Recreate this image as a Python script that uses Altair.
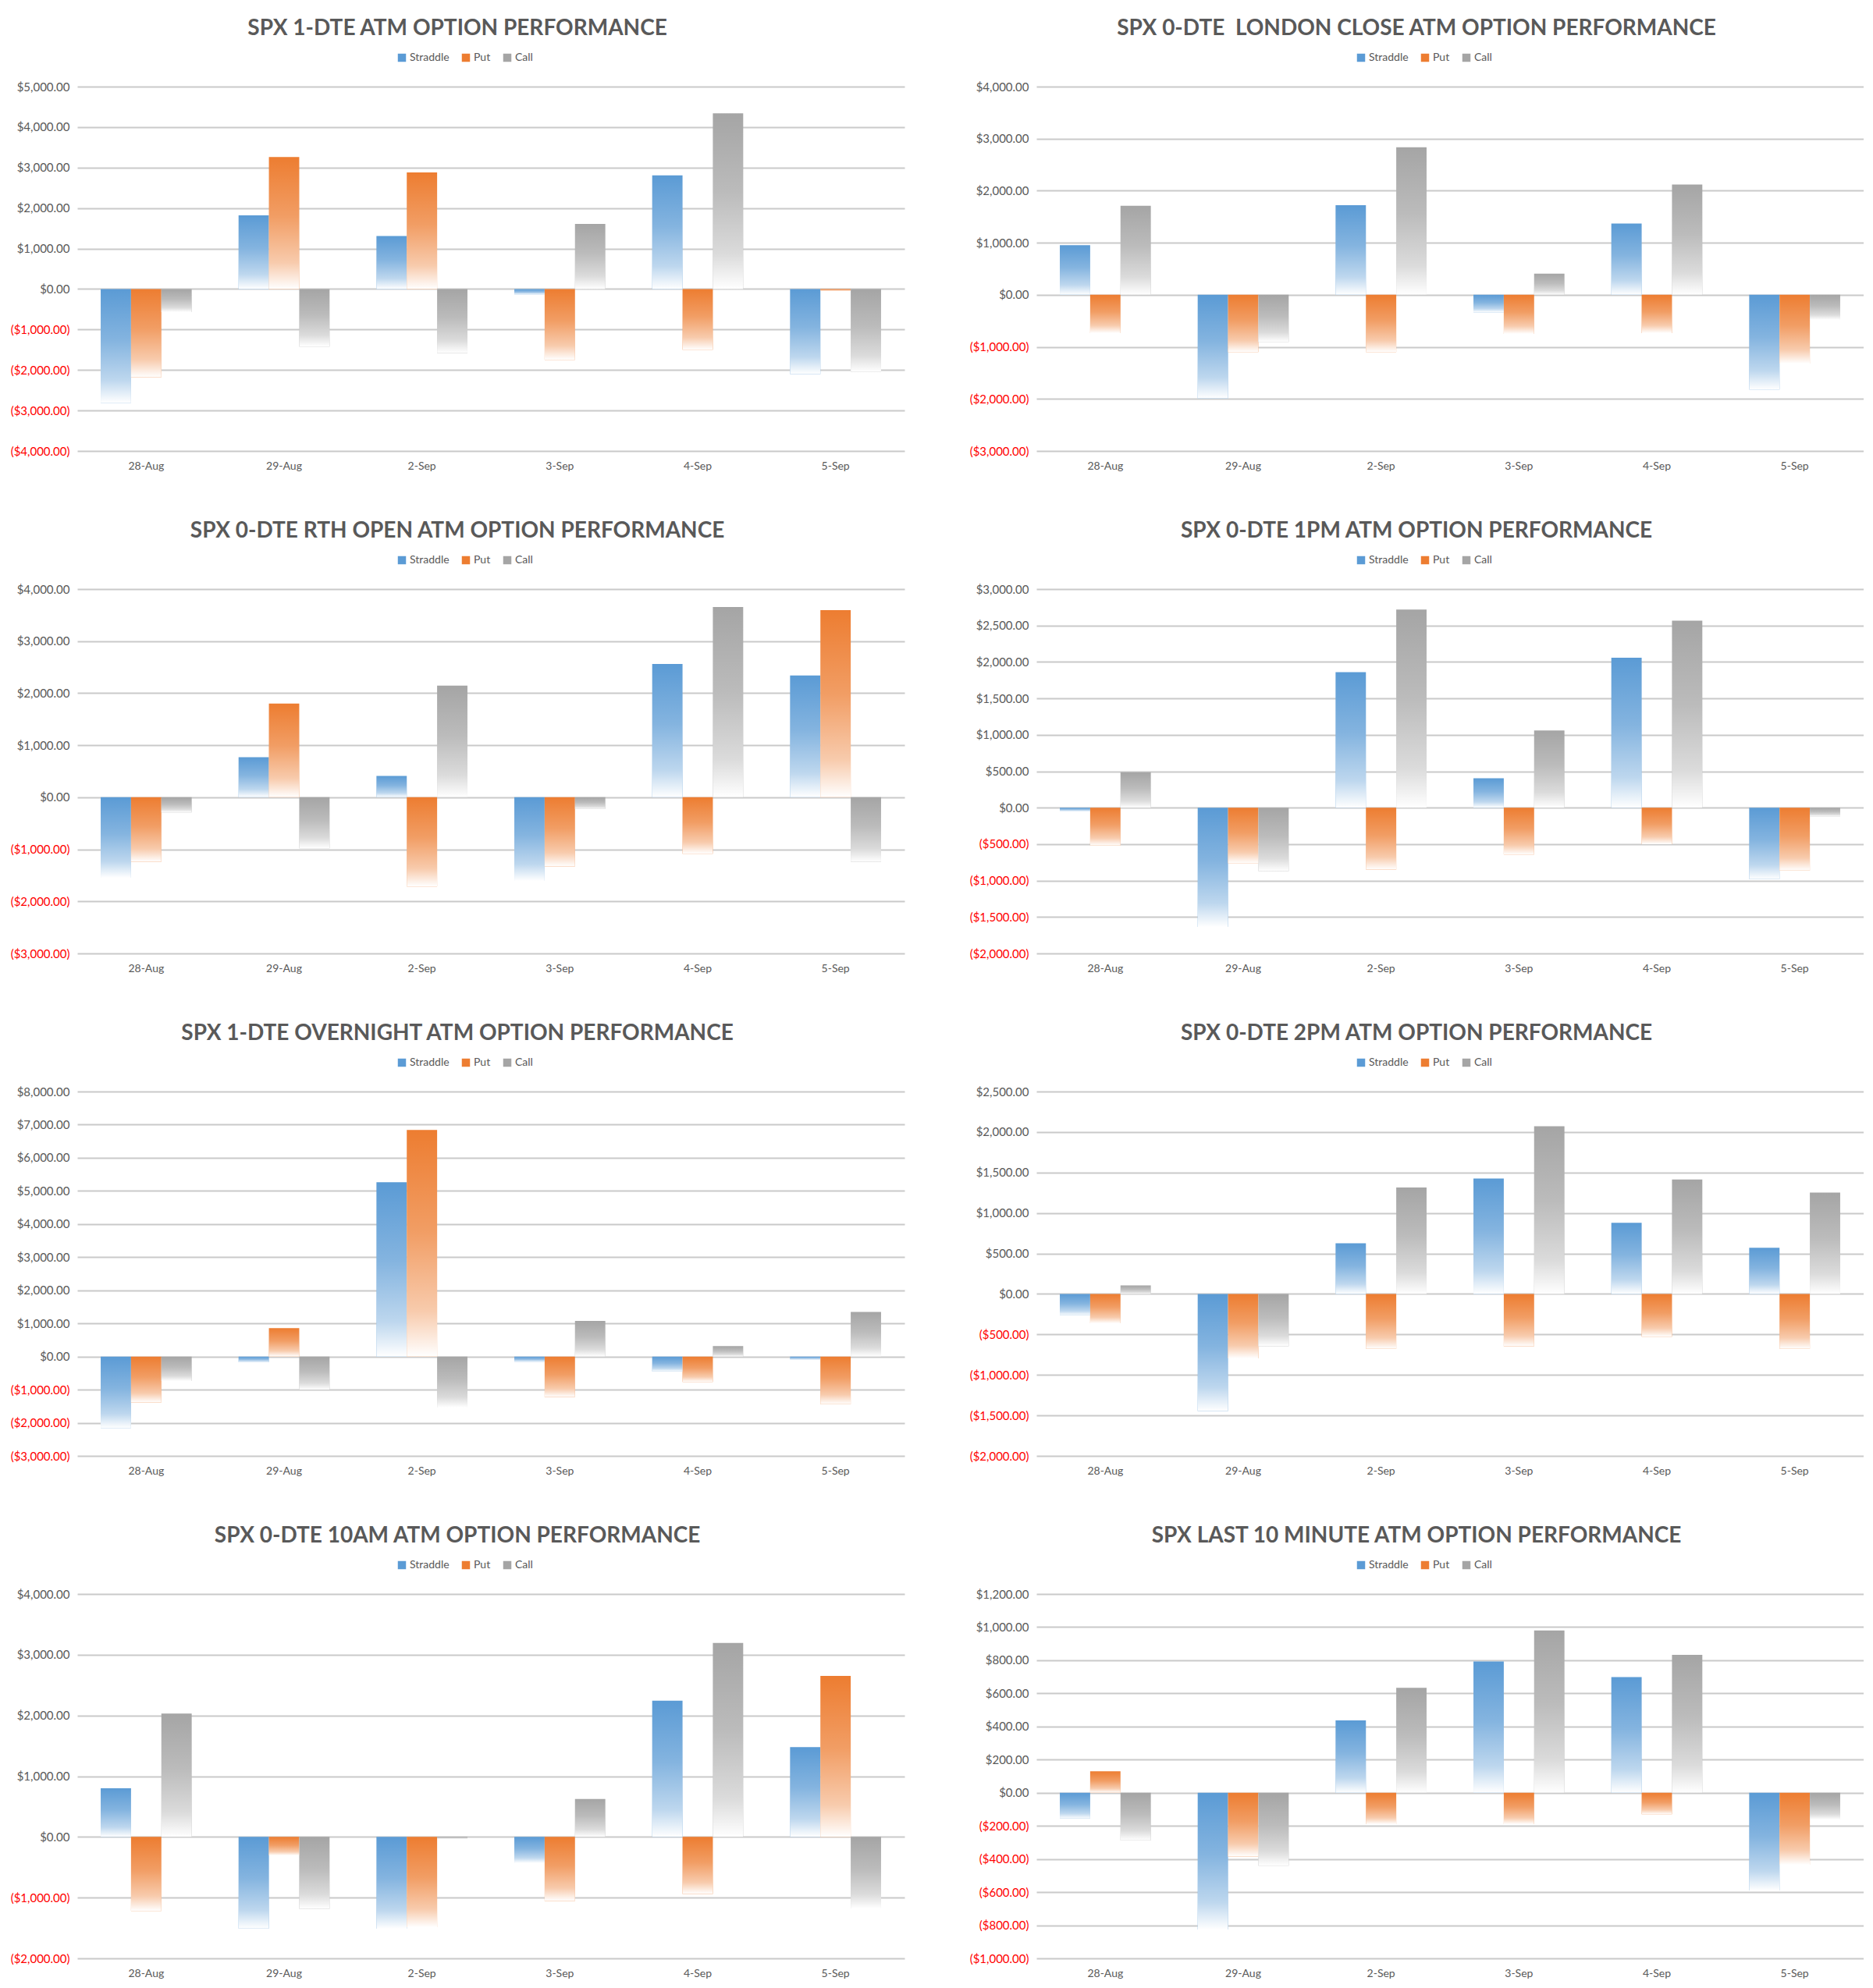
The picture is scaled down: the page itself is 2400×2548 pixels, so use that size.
import altair as alt
import pandas as pd

dates = ["28-Aug", "29-Aug", "2-Sep", "3-Sep", "4-Sep", "5-Sep"]
series = ["Straddle", "Put", "Call"]
colors = ["#5B9BD5", "#ED7D31", "#A5A5A5"]

titles = [
    "SPX 1-DTE ATM OPTION PERFORMANCE",
    "SPX 0-DTE \u00a0LONDON CLOSE ATM OPTION PERFORMANCE",
    "SPX 0-DTE RTH OPEN ATM OPTION PERFORMANCE",
    "SPX 0-DTE 1PM ATM OPTION PERFORMANCE",
    "SPX 1-DTE OVERNIGHT ATM OPTION PERFORMANCE",
    "SPX 0-DTE 2PM ATM OPTION PERFORMANCE",
    "SPX 0-DTE 10AM ATM OPTION PERFORMANCE",
    "SPX LAST 10 MINUTE ATM OPTION PERFORMANCE",
]

# panel 1: SPX 1-DTE
p1_straddle = [-2810, 1820, 1310, -130, 2810, -2100]
p1_put = [-2180, 3260, 2880, -1750, -1500, -40]
p1_call = [-570, -1420, -1580, 1610, 4340, -2050]
# panel 2: London close
p2_straddle = [955, -1990, 1720, -335, 1370, -1820]
p2_put = [-735, -1100, -1100, -750, -735, -1320]
p2_call = [1710, -905, 2835, 405, 2120, -480]
# panel 3: RTH open
p3_straddle = [-1545, 770, 410, -1605, 2560, 2340]
p3_put = [-1240, 1800, -1715, -1330, -1085, 3595]
p3_call = [-290, -980, 2145, -225, 3655, -1240]
# panel 4: 1PM
p4_straddle = [-44, -1637, 1860, 403, 2058, -981]
p4_put = [-520, -762, -849, -644, -500, -862]
p4_call = [486, -871, 2719, 1060, 2566, -118]
# panel 5: overnight
p5_straddle = [-2160, -165, 5260, -155, -450, -85]
p5_put = [-1385, 855, 6840, -1220, -770, -1440]
p5_call = [-740, -1000, -1540, 1075, 315, 1345]
# panel 6: 2PM
p6_straddle = [-264, -1445, 626, 1425, 878, 571]
p6_put = [-362, -795, -677, -646, -528, -677]
p6_call = [106, -646, 1315, 2071, 1413, 1252]
# panel 7: 10AM
p7_straddle = [802, -1508, -1513, -431, 2244, 1477]
p7_put = [-1218, -305, -1487, -1056, -939, 2650]
p7_call = [2030, -1183, -25, 624, 3193, -1178]
# panel 8: last 10 minute
p8_straddle = [-156, -826, 437, 793, 698, -590]
p8_put = [130, -385, -190, -190, -130, -435]
p8_call = [-287, -441, 634, 980, 832, -162]

panel_values = [
    (p1_straddle, p1_put, p1_call),
    (p2_straddle, p2_put, p2_call),
    (p3_straddle, p3_put, p3_call),
    (p4_straddle, p4_put, p4_call),
    (p5_straddle, p5_put, p5_call),
    (p6_straddle, p6_put, p6_call),
    (p7_straddle, p7_put, p7_call),
    (p8_straddle, p8_put, p8_call),
]

# y-axis tick range per panel: (min, max, step)
y_ticks = [
    (-4000, 5000, 1000),
    (-3000, 4000, 1000),
    (-3000, 4000, 1000),
    (-2000, 3000, 500),
    (-3000, 8000, 1000),
    (-2000, 2500, 500),
    (-2000, 4000, 1000),
    (-1000, 1200, 200),
]

W = 1060
H = 467
AXIS_W = 85
FONT = "Lato"
TXT = "#595959"

label_expr = ("datum.value < 0 ? '($' + format(-datum.value, ',.2f') + ')' "
              ": '$' + format(datum.value, ',.2f')")


def panel(i):
    vals = panel_values[i]
    rows = []
    for s, arr in zip(series, vals):
        for d, v in zip(dates, arr):
            rows.append({"date": d, "series": s, "value": v})
    df = pd.DataFrame(rows)
    lo, hi, step = y_ticks[i]
    ticks = list(range(lo, hi + 1, step))

    x = alt.X("date:N", sort=dates, title=None,
              scale=alt.Scale(paddingInner=0.34, paddingOuter=0.17),
              axis=alt.Axis(labelAngle=0, domain=False, ticks=False, grid=False,
                            labelPadding=12, labelFontSize=14,
                            labelColor=TXT, labelFont=FONT))
    xo = alt.XOffset("series:N", sort=series, scale=alt.Scale(domain=series))
    y = alt.Y("value:Q", title=None,
              scale=alt.Scale(domain=[lo, hi], nice=False, zero=True),
              axis=alt.Axis(values=ticks, labelExpr=label_expr,
                            labelColor={"condition": {"test": "datum.value < 0", "value": "#FF0000"},
                                        "value": TXT},
                            labelFontSize=15, labelFont=FONT,
                            domain=False, ticks=False, labelPadding=10,
                            grid=True, gridColor="#CACACA", gridWidth=2,
                            minExtent=AXIS_W, maxExtent=AXIS_W))

    legend_w = 156
    legend_x = int((-AXIS_W + W) / 2 - legend_w / 2)

    solid = alt.Chart(df).mark_bar().encode(
        x=x, xOffset=xo, y=y,
        color=alt.Color("series:N", sort=series,
                        scale=alt.Scale(domain=series, range=colors),
                        legend=alt.Legend(orient="none", legendX=legend_x, legendY=-44,
                                          direction="horizontal", title=None,
                                          symbolType="square", symbolSize=110,
                                          symbolStrokeWidth=0,
                                          labelFontSize=14, labelColor=TXT,
                                          labelFont=FONT, columnPadding=14,
                                          labelOffset=3)),
    )
    fade = alt.Chart(df).mark_bar(
        fill=alt.Gradient(
            gradient="linear", x1=0, x2=0, y1=0, y2=1,
            stops=[
                alt.GradientStop(color="rgba(255,255,255,0)", offset=0),
                alt.GradientStop(color="rgba(255,255,255,0.25)", offset=0.45),
                alt.GradientStop(color="rgba(255,255,255,0.6)", offset=0.8),
                alt.GradientStop(color="rgba(255,255,255,1)", offset=1),
            ],
        )
    ).encode(x=x, xOffset=xo, y=y)

    return alt.layer(solid, fade).resolve_scale(
        x="shared", y="shared", xOffset="shared"
    ).properties(
        width=W, height=H,
        view=alt.ViewBackground(stroke=None, strokeWidth=0),
        title=alt.TitleParams(titles[i], anchor="middle", frame="bounds",
                              fontSize=28, font=FONT, fontWeight="bold",
                              color=TXT, offset=16),
    )


rows_ = []
for r in range(4):
    rows_.append(
        alt.hconcat(panel(2 * r), panel(2 * r + 1), spacing=83).resolve_scale(
            color="independent")
    )

chart = alt.vconcat(*rows_, spacing=63).resolve_scale(
    color="independent"
).properties(
    padding={"left": 5, "top": 15, "right": 0, "bottom": 0}
).configure_view(
    stroke=None, strokeWidth=0
).configure_axisX(grid=False).configure(background="white")

chart.save("out.html", embed_options={"renderer": "svg", "actions": False})
